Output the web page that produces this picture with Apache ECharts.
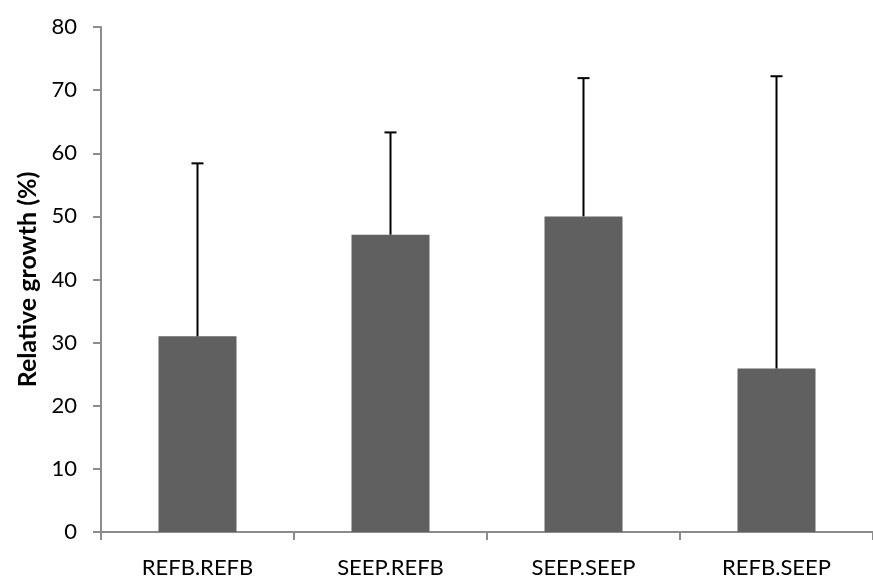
<!DOCTYPE html>
<html><head><meta charset="utf-8">
<script src="https://cdn.jsdelivr.net/npm/echarts@6/dist/echarts.min.js"></script>
<style>html,body{margin:0;padding:0;background:#fff}#c{width:873px;height:579px}</style>
</head><body><div id="c"></div>
<script>
const categories = ['REFB.REFB', 'SEEP.REFB', 'SEEP.SEEP', 'REFB.SEEP'];
const growth = [31, 47.1, 50, 25.9];
const errorTop = [58.4, 63.3, 71.9, 72.2];
const yTicks = [0, 10, 20, 30, 40, 50, 60, 70, 80];

const FONT = 'Lato';
const chart = echarts.init(document.getElementById('c'));
chart.setOption({
  animation: false,
  backgroundColor: '#fff',
  grid: { left: 101, right: -9, top: 27, bottom: 45.3, containLabel: false },
  xAxis: {
    type: 'category', data: categories,
    axisLine: { lineStyle: { color: '#8c8c8c', width: 2 } },
    axisTick: { show: true, length: 8, lineStyle: { color: '#8c8c8c', width: 2 } },
    axisLabel: { color: '#000', fontFamily: FONT, fontSize: 22, margin: 25 }
  },
  yAxis: {
    type: 'value', min: yTicks[0], max: yTicks[yTicks.length - 1], interval: 10,
    name: 'Relative growth (%)', nameLocation: 'middle', nameGap: 61,
    nameTextStyle: { color: '#000', fontFamily: FONT, fontSize: 25, fontWeight: 'bold' },
    axisLine: { show: true, lineStyle: { color: '#8c8c8c', width: 2 } },
    axisTick: { show: true, length: 8, lineStyle: { color: '#8c8c8c', width: 2 } },
    axisLabel: { color: '#000', fontFamily: FONT, fontSize: 22, margin: 24 },
    splitLine: { show: false }
  },
  series: [
    {
      type: 'bar', data: growth, barWidth: 78,
      itemStyle: { color: '#606060' }
    },
    {
      type: 'custom',
      data: categories.map((c, i) => [i, growth[i], errorTop[i]]),
      renderItem: function (params, api) {
        const base = api.coord([api.value(0), api.value(1)]);
        const top = api.coord([api.value(0), api.value(2)]);
        const cap = 6;
        return {
          type: 'group',
          children: [
            { type: 'line', shape: { x1: base[0], y1: base[1], x2: top[0], y2: top[1] }, style: { stroke: '#000', lineWidth: 2 } },
            { type: 'line', shape: { x1: top[0] - cap, y1: top[1], x2: top[0] + cap, y2: top[1] }, style: { stroke: '#000', lineWidth: 2 } }
          ]
        };
      },
      z: 3
    }
  ]
});
</script></body></html>
